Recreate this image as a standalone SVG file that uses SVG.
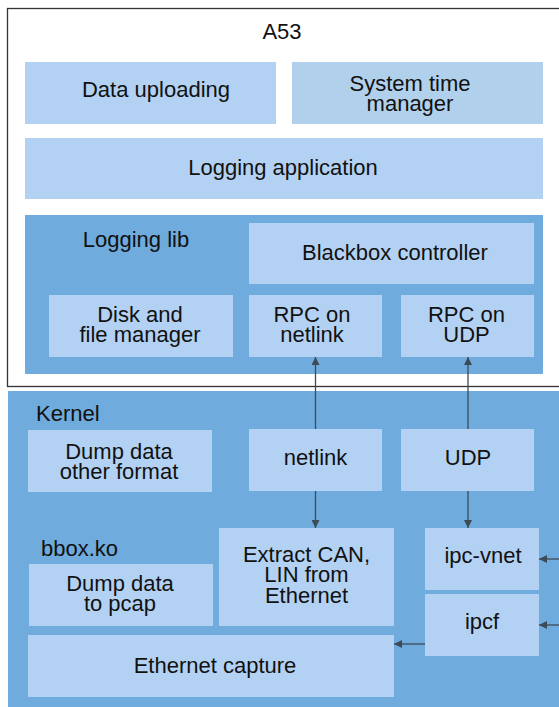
<svg xmlns="http://www.w3.org/2000/svg" width="559" height="707" viewBox="0 0 559 707">
<style>
text{font-family:"Liberation Sans",Arial,sans-serif;font-size:22px;fill:#111;text-anchor:middle}
.l{text-anchor:start}
.box{fill:#b3d1f3}
.box2{fill:#b1d0ec}
.grp{fill:#6fabdc}
.ln{stroke:#3d4b57;stroke-width:1.3;fill:none;marker-end:url(#ah)}
</style>
<defs>
<marker id="ah" viewBox="0 0 10 10" refX="10" refY="5" markerWidth="8" markerHeight="8" markerUnits="userSpaceOnUse" orient="auto">
<path d="M0,0L10,5L0,10z" fill="#3d4b57"/>
</marker>
</defs>
<g id="a53">
<rect x="7.5" y="8.5" width="560" height="378" fill="#fff" stroke="#333" stroke-width="1.3"/>
<text x="282" y="39">A53</text>
</g>
<g id="data-uploading"><rect class="box" x="25" y="62" width="251" height="62"/><text x="156" y="97">Data uploading</text></g>
<g id="system-time"><rect class="box2" x="292" y="62" width="251" height="62"/><text x="410" y="91">System time</text><text x="410" y="111">manager</text></g>
<g id="logging-app"><rect class="box" x="25" y="138" width="518" height="61"/><text x="283" y="175">Logging application</text></g>
<g id="logging-lib"><rect class="grp" x="25" y="215" width="518" height="159"/><text x="136" y="247">Logging lib</text></g>
<g id="blackbox"><rect class="box" x="249" y="223" width="285" height="61"/><text x="395" y="260">Blackbox controller</text></g>
<g id="disk"><rect class="box" x="49" y="295" width="184" height="62"/><text x="140" y="322">Disk and</text><text x="140" y="342">file manager</text></g>
<g id="rpc-netlink"><rect class="box" x="249" y="295" width="133" height="62"/><text x="312" y="322">RPC on</text><text x="312" y="342">netlink</text></g>
<g id="rpc-udp"><rect class="box" x="401" y="295" width="133" height="62"/><text x="466.5" y="322">RPC on</text><text x="466.5" y="342">UDP</text></g>
<g id="kernel"><rect class="grp" x="8" y="391" width="560" height="316"/><text class="l" x="36" y="421">Kernel</text></g>
<g id="dump-other"><rect class="box" x="28" y="430" width="184" height="62"/><text x="119" y="459">Dump data</text><text x="119" y="479">other format</text></g>
<g id="netlink"><rect class="box" x="249" y="429" width="133" height="62"/><text x="315.5" y="465">netlink</text></g>
<g id="udp"><rect class="box" x="401" y="429" width="133" height="62"/><text x="468" y="465">UDP</text></g>
<g id="bbox"><text class="l" x="41" y="556">bbox.ko</text></g>
<g id="dump-pcap"><rect class="box" x="29" y="564" width="184" height="62"/><text x="120" y="591">Dump data</text><text x="120" y="611">to pcap</text></g>
<g id="extract"><rect class="box" x="219" y="528" width="175" height="98"/><text x="306.5" y="562">Extract CAN,</text><text x="306.5" y="582">LIN from</text><text x="306.5" y="603">Ethernet</text></g>
<g id="ipc-vnet"><rect class="box" x="425" y="528" width="114" height="62"/><text x="483" y="563">ipc-vnet</text></g>
<g id="ipcf"><rect class="box" x="425" y="594" width="114" height="62"/><text x="482" y="629">ipcf</text></g>
<g id="eth-capture"><rect class="box" x="28" y="635" width="366" height="62"/><text x="215" y="673">Ethernet capture</text></g>
<g id="connectors">
<line class="ln" x1="315.5" y1="429" x2="315.5" y2="357"/>
<line class="ln" x1="468" y1="429" x2="468" y2="357"/>
<line class="ln" x1="315.5" y1="491" x2="315.5" y2="528"/>
<line class="ln" x1="468" y1="491" x2="468" y2="528"/>
<line class="ln" x1="559" y1="559" x2="539" y2="559"/>
<line class="ln" x1="559" y1="625" x2="539" y2="625"/>
<line class="ln" x1="425" y1="644" x2="394" y2="644"/>
</g>
</svg>
